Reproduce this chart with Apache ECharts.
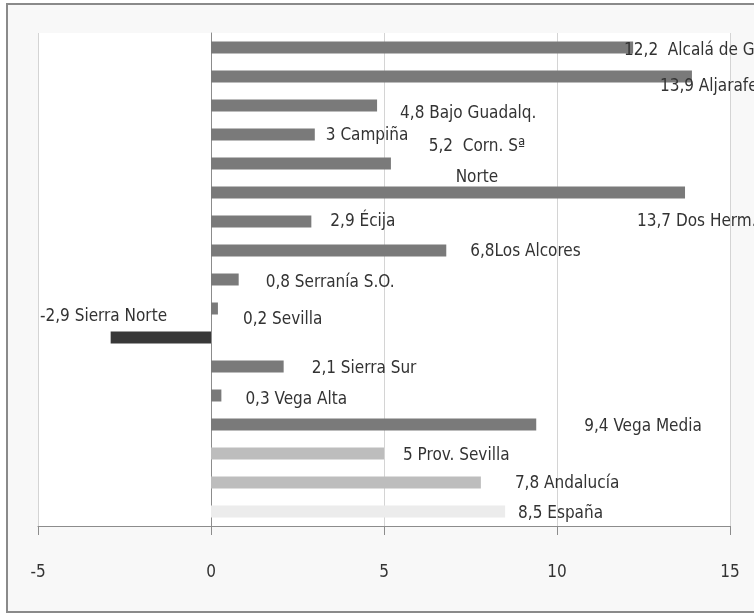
<!DOCTYPE html>
<html>
<head>
<meta charset="utf-8">
<script src="https://cdn.jsdelivr.net/npm/echarts@6/dist/echarts.min.js"></script>
<style>
  html, body { margin: 0; padding: 0; background: #fff; }
  #chart { width: 754px; height: 616px; }
</style>
</head>
<body>
<div id="chart"></div>
<script>
// comarcas de Sevilla, variación (%)
const categories = [
  "Alcalá de G.", "Aljarafe", "Bajo Guadalq.", "Campiña", "Corn. Sª\nNorte",
  "Dos Herm.", "Écija", "Los Alcores", "Serranía S.O.", "Sevilla",
  "Sierra Norte", "Sierra Sur", "Vega Alta", "Vega Media", "Prov. Sevilla",
  "Andalucía", "España"
];
const values = [12.2, 13.9, 4.8, 3, 5.2, 13.7, 2.9, 6.8, 0.8, 0.2, -2.9, 2.1, 0.3, 9.4, 5, 7.8, 8.5];
const xTicks = { min: -5, max: 15, interval: 5 };

// how each label is joined in the original (default one space)
const labelJoin = { 0: "  ", 4: "  ", 7: "" };
// label nudges in px, relative to the bar end (layout only)
const labelNudge = [
  [-9, 3], [-32, 10], [23, 8], [11, 1], [86, -1],
  [-48, 29], [19, 0], [24, 1], [27, 3], [25, 11],
  [-171, -21], [28, 2], [24, 4], [48, 2], [19, 2],
  [34, 1], [13, 2]
];

const FONT = "'Liberation Sans Narrow', 'DejaVu Sans Condensed', sans-serif";

function barColor(i) {
  const name = categories[i];
  if (values[i] < 0) return "#383838";
  if (name === "España") return "#ececec";
  if (name === "Prov. Sevilla" || name === "Andalucía") return "#bdbdbd";
  return "#7a7a7a";
}

const chart = echarts.init(document.getElementById("chart"));

chart.setOption({
  animation: false,
  backgroundColor: "#fff",
  graphic: [{
    type: "rect",
    z: -10,
    shape: { x: 7, y: 4, width: 800, height: 608 },
    style: { fill: "#f8f8f8", stroke: "#8a8a8a", lineWidth: 2 }
  }],
  grid: {
    left: 38, right: 24, top: 33, bottom: 90,
    show: true, backgroundColor: "#fff", borderWidth: 0
  },
  xAxis: {
    type: "value",
    min: xTicks.min, max: xTicks.max, interval: xTicks.interval,
    axisLine: { show: true, lineStyle: { color: "#8c8c8c", width: 1 } },
    axisTick: { show: true, length: 9, lineStyle: { color: "#8c8c8c" } },
    axisLabel: { margin: 38, fontSize: 17, color: "#333", fontFamily: FONT },
    splitLine: { show: true, lineStyle: { color: "#d4d4d4", width: 1 } }
  },
  yAxis: {
    type: "category",
    inverse: true,
    data: categories,
    axisLabel: { show: false },
    axisTick: { show: false },
    axisLine: { show: true, onZero: true, lineStyle: { color: "#8c8c8c" } },
    splitLine: { show: false }
  },
  series: [{
    type: "bar",
    barWidth: 12,
    data: values.map((v, i) => ({
      value: v,
      itemStyle: { color: barColor(i) },
      label: {
        offset: labelNudge[i],
        align: i === 4 ? "center" : "left"
      }
    })),
    label: {
      show: true,
      position: "right",
      distance: 0,
      fontSize: 17,
      lineHeight: 31,
      color: "#333",
      fontFamily: FONT,
      formatter: (p) => {
        const join = labelJoin[p.dataIndex] !== undefined ? labelJoin[p.dataIndex] : " ";
        return String(p.value).replace(".", ",") + join + p.name;
      }
    }
  }]
});
</script>
</body>
</html>
